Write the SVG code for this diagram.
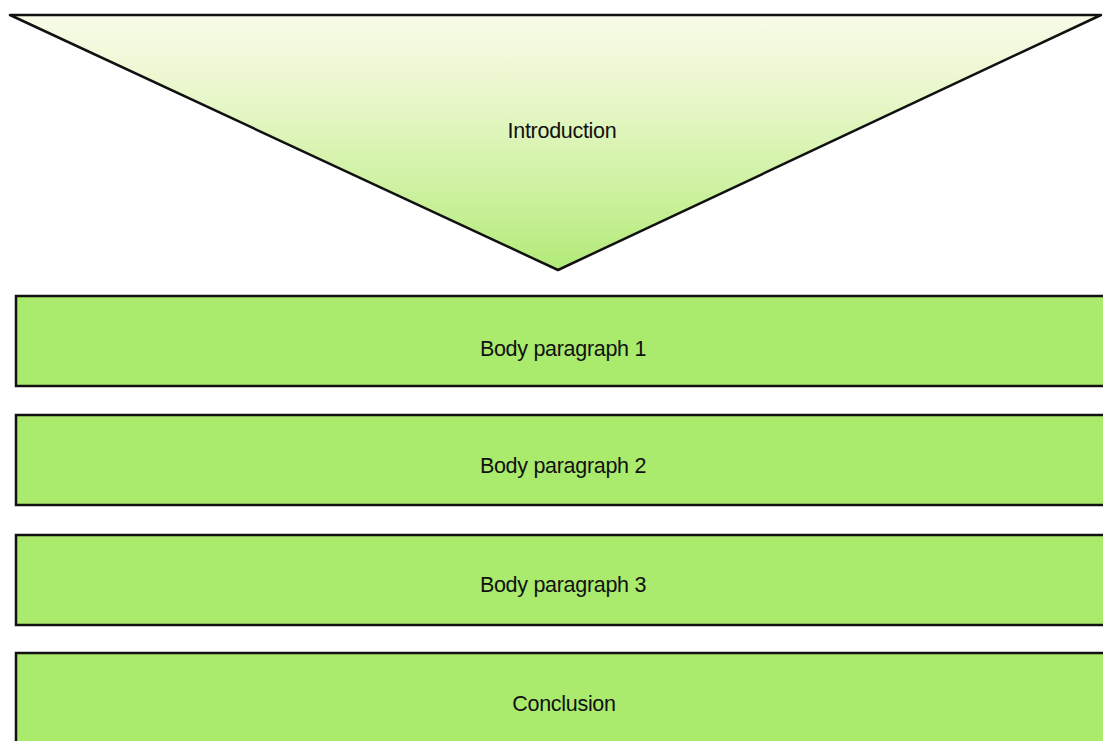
<svg xmlns="http://www.w3.org/2000/svg" width="1103" height="741" viewBox="0 0 1103 741">
<defs>
<linearGradient id="tri" x1="0" y1="0" x2="0" y2="1">
<stop offset="0" stop-color="#f7fbe8"/>
<stop offset="0.3" stop-color="#eaf7cc"/>
<stop offset="0.65" stop-color="#d0f2a4"/>
<stop offset="1" stop-color="#b2ea78"/>
</linearGradient>
<style>
.box{fill:#aaea6c;stroke:#111;stroke-width:2.5}
.tri{fill:url(#tri);stroke:#111;stroke-width:2.5;stroke-linejoin:round}
.lbl{font-family:"Liberation Sans",Arial,sans-serif;font-size:21.5px;fill:#111;text-anchor:middle;letter-spacing:-0.3px}
</style>
</defs>
<rect width="1103" height="741" fill="#ffffff"/>
<g id="introduction">
<polygon class="tri" points="10,15 1101,15 558,270"/>
<text class="lbl" x="562" y="138">Introduction</text>
</g>
<g id="body1">
<rect class="box" x="16" y="296" width="1100" height="90"/>
<text class="lbl" x="563" y="356">Body paragraph 1</text>
</g>
<g id="body2">
<rect class="box" x="16" y="415" width="1100" height="90"/>
<text class="lbl" x="563" y="473">Body paragraph 2</text>
</g>
<g id="body3">
<rect class="box" x="16" y="535" width="1100" height="90"/>
<text class="lbl" x="563" y="592">Body paragraph 3</text>
</g>
<g id="conclusion">
<rect class="box" x="16" y="653" width="1100" height="100"/>
<text class="lbl" x="564" y="711">Conclusion</text>
</g>
<g id="connectors"/>
</svg>
